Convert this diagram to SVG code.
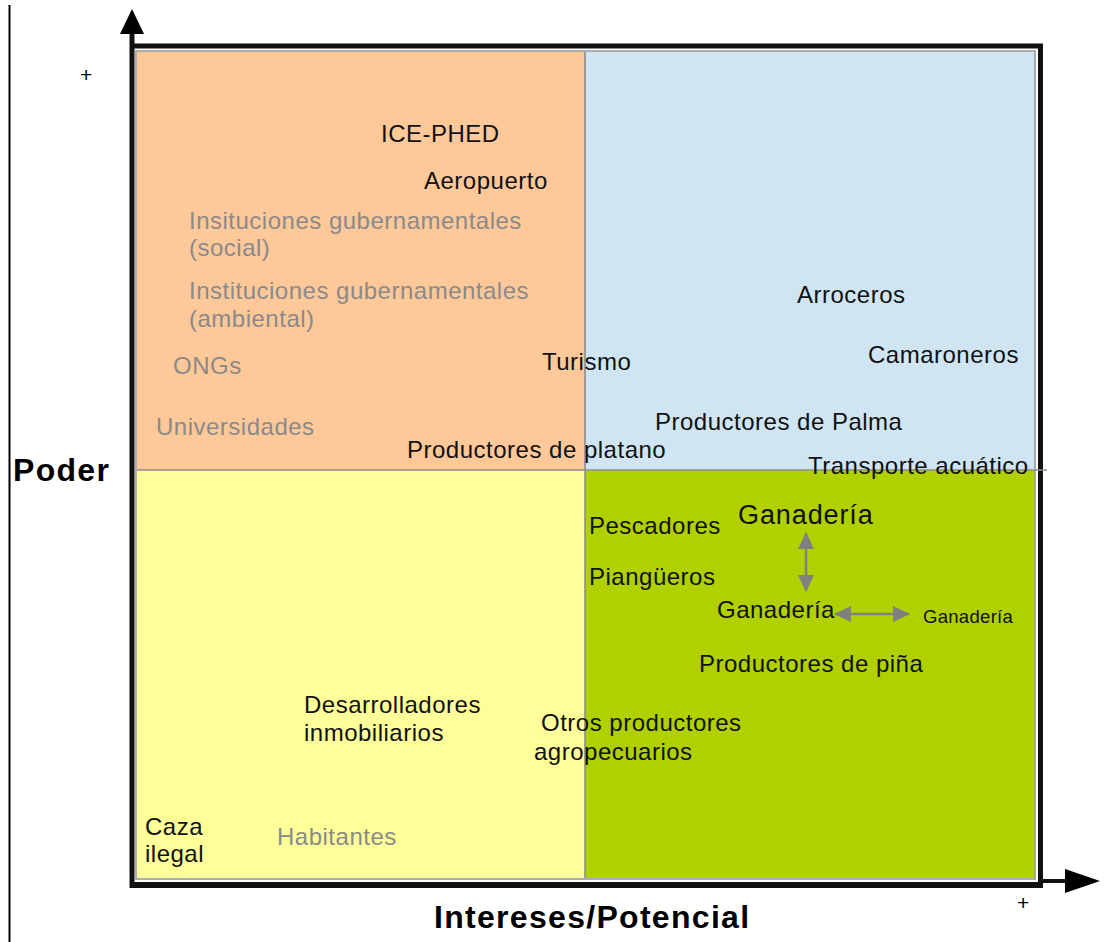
<svg xmlns="http://www.w3.org/2000/svg" width="1120" height="942" viewBox="0 0 1120 942">
  <style>
    text { font-family: "Liberation Sans", Arial, sans-serif; font-size: 24px; letter-spacing: 0.5px; fill: #111; }
    .muted { fill: #8a8a8a; }
    .axis-title { font-weight: bold; font-size: 32px; letter-spacing: 1.3px; fill: #000; }
    .sign { font-size: 21px; letter-spacing: 0; fill: #000; }
    .frame { stroke: #111; fill: none; }
    .mid { stroke: #8c8c8c; stroke-width: 1.6; }
    .rel { stroke: #808080; stroke-width: 2.5; fill: none; }
  </style>
  <defs>
    <marker id="relHead" viewBox="0 0 17 16" refX="16" refY="8" markerWidth="17" markerHeight="16" orient="auto-start-reverse" markerUnits="userSpaceOnUse">
      <path d="M0,0 L17,8 L0,16 z" fill="#808080"/>
    </marker>
  </defs>

  <rect width="1120" height="942" fill="#fff"/>

  <!-- page margin rule -->
  <line x1="9.5" y1="5" x2="9.5" y2="942" stroke="#000" stroke-width="2"/>

  <!-- quadrant fills -->
  <g id="quadrants">
    <rect id="q-top-left" x="137" y="52" width="448" height="418" fill="#fec899"/>
    <rect id="q-top-right" x="585" y="52" width="450" height="418" fill="#cfe5f3"/>
    <rect id="q-bottom-left" x="137" y="470" width="448" height="408" fill="#ffff99"/>
    <rect id="q-bottom-right" x="585" y="470" width="450" height="408" fill="#b0d000"/>
  </g>

  <!-- frame and axes -->
  <g id="frame">
    <rect x="136" y="51" width="899" height="828" fill="none" stroke="#9a9a9a" stroke-width="1.6"/>
    <line class="frame" x1="130" y1="46" x2="1043" y2="46" stroke-width="5"/>
    <line class="frame" x1="1040.5" y1="44" x2="1040.5" y2="888" stroke-width="5"/>
    <line class="frame" x1="130" y1="885" x2="1043" y2="885" stroke-width="6"/>
    <!-- vertical axis (Poder) -->
    <line class="frame" x1="132" y1="30" x2="132" y2="888" stroke-width="5"/>
    <polygon points="132,9 144,34 120,34" fill="#000"/>
    <!-- horizontal axis (Intereses/Potencial) -->
    <line class="frame" x1="1040" y1="881" x2="1068" y2="881" stroke-width="4"/>
    <polygon points="1100,881 1065,869 1065,893" fill="#000"/>
  </g>

  <!-- quadrant dividers -->
  <g id="dividers">
    <line class="mid" x1="585" y1="52" x2="585" y2="878"/>
    <line class="mid" x1="137" y1="470" x2="1047" y2="470"/>
  </g>

  <!-- axis titles and signs -->
  <g id="axis-labels">
    <text class="axis-title" x="13" y="481">Poder</text>
    <text class="axis-title" x="434" y="928">Intereses/Potencial</text>
    <text class="sign" x="80" y="82">+</text>
    <text class="sign" x="1017" y="910">+</text>
  </g>

  <!-- stakeholders -->
  <g id="n-ice-phed"><text x="381" y="142">ICE-PHED</text></g>
  <g id="n-aeropuerto"><text x="424" y="189">Aeropuerto</text></g>
  <g id="n-inst-social"><text class="muted" x="189" y="229">Insituciones gubernamentales</text><text class="muted" x="189" y="256">(social)</text></g>
  <g id="n-inst-ambiental"><text class="muted" x="189" y="299">Instituciones gubernamentales</text><text class="muted" x="189" y="327">(ambiental)</text></g>
  <g id="n-ongs"><text class="muted" x="173" y="374">ONGs</text></g>
  <g id="n-universidades"><text class="muted" x="156" y="435">Universidades</text></g>
  <g id="n-turismo"><text x="542" y="370">Turismo</text></g>
  <g id="n-platano"><text x="407" y="458">Productores de platano</text></g>
  <g id="n-arroceros"><text x="797" y="303">Arroceros</text></g>
  <g id="n-camaroneros"><text x="868" y="363">Camaroneros</text></g>
  <g id="n-palma"><text x="655" y="430">Productores de Palma</text></g>
  <g id="n-transporte"><text x="808" y="474">Transporte acuático</text></g>
  <g id="n-pescadores"><text x="589" y="534">Pescadores</text></g>
  <g id="n-piangueros"><text x="589" y="585">Piangüeros</text></g>
  <g id="n-ganaderia-high"><text x="738" y="524" style="font-size:27px;letter-spacing:0.9px">Ganadería</text></g>
  <g id="n-ganaderia"><text x="717" y="618">Ganadería</text></g>
  <g id="n-ganaderia-right"><text x="923" y="623" style="font-size:18.5px;letter-spacing:0.3px">Ganadería</text></g>
  <g id="n-pina"><text x="699" y="672">Productores de piña</text></g>
  <g id="n-otros"><text x="541" y="731">Otros productores</text><text x="534" y="760">agropecuarios</text></g>
  <g id="n-desarrolladores"><text x="304" y="713">Desarrolladores</text><text x="304" y="741">inmobiliarios</text></g>
  <g id="n-caza"><text x="145" y="835">Caza</text><text x="145" y="862">ilegal</text></g>
  <g id="n-habitantes"><text class="muted" x="277" y="845">Habitantes</text></g>

  <!-- connectors between Ganadería positions -->
  <g id="connectors">
    <line class="rel" x1="806" y1="533" x2="806" y2="591" marker-start="url(#relHead)" marker-end="url(#relHead)"/>
    <line class="rel" x1="835" y1="614" x2="909" y2="614" marker-start="url(#relHead)" marker-end="url(#relHead)"/>
  </g>
</svg>
